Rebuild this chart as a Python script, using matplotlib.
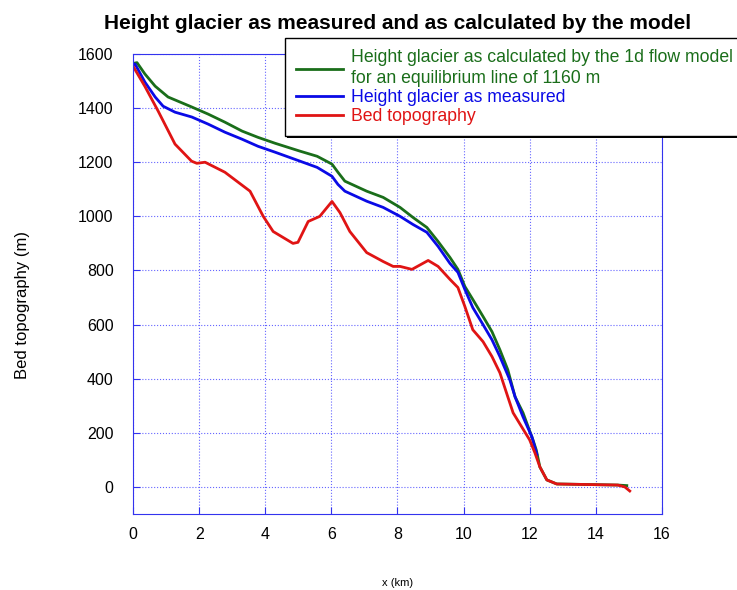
import matplotlib
matplotlib.use('Agg')
import matplotlib.pyplot as plt
import matplotlib.patheffects as pe

plt.rcParams['font.family'] = ['Liberation Sans', 'DejaVu Sans']

# bed topography (km, m)
bed_x = [0.0, 0.36, 0.76, 1.27, 1.77, 1.93, 2.18, 2.78, 3.54, 3.94, 4.24, 4.84, 4.99,
         5.3, 5.65, 6.02, 6.26, 6.56, 7.07, 7.57, 7.87, 8.08, 8.44, 8.93, 9.23, 9.59,
         9.83, 10.04, 10.28, 10.59, 10.86, 11.1, 11.34, 11.5, 12.0, 12.16, 12.31, 12.52,
         12.82, 14.67, 14.88, 15.03]
bed_y = [1555, 1480, 1389, 1267, 1204, 1196, 1200, 1163, 1093, 1000, 944, 900, 904,
         981, 1000, 1055, 1014, 944, 866, 833, 815, 815, 804, 837, 815, 767,
         737, 667, 581, 537, 482, 422, 333, 274, 174, 126, 74, 26,
         11, 7, 0, -15]

# measured glacier surface
meas_x = [0.0, 0.06, 0.36, 0.67, 0.91, 1.27, 1.78, 2.27, 2.78, 3.3, 3.78, 4.3, 5.05,
          5.57, 6.02, 6.2, 6.41, 7.07, 7.57, 8.08, 8.47, 8.89, 9.23, 9.59, 9.83,
          10.04, 10.28, 10.59, 10.86, 11.1, 11.4, 11.56, 11.8, 12.07, 12.22]
meas_y = [1558, 1563, 1496, 1441, 1407, 1385, 1367, 1341, 1311, 1285, 1259, 1237, 1204,
          1181, 1148, 1118, 1093, 1056, 1033, 1000, 970, 941, 889, 826, 793,
          730, 663, 600, 544, 482, 396, 333, 259, 185, 120]

# modelled glacier surface (ELA 1160 m)
model_x = [0.0, 0.12, 0.36, 0.67, 1.06, 1.78, 2.27, 2.78, 3.3, 3.78, 4.3, 5.05, 5.57,
           6.02, 6.2, 6.41, 7.07, 7.57, 8.08, 8.47, 8.89, 9.23, 9.59, 9.83, 10.04,
           10.28, 10.59, 10.86, 11.1, 11.34, 11.56, 11.8, 12.1, 12.2, 12.31, 12.52,
           12.82, 14.67, 14.94]
model_y = [1565, 1568, 1526, 1481, 1441, 1404, 1378, 1348, 1315, 1292, 1270, 1241, 1222,
           1193, 1163, 1130, 1093, 1070, 1033, 996, 959, 907, 848, 804, 741,
           693, 630, 574, 507, 433, 333, 274, 174, 137, 74, 26,
           11, 7, 5]

fig = plt.figure(figsize=(7.37, 5.90), dpi=100)
ax = fig.add_axes([0.1805, 0.1288, 0.7175, 0.7797])

ax.plot(model_x, model_y, color='#1a6e1a', lw=2.0,
        label='Height glacier as calculated by the 1d flow model\nfor an equilibrium line of 1160 m')
ax.plot(meas_x, meas_y, color='#0a0ae6', lw=2.0, label='Height glacier as measured')
ax.plot(bed_x, bed_y, color='#e01414', lw=2.0, label='Bed topography')

ax.set_xlim(0, 16)
ax.set_ylim(-100, 1600)
ax.set_xticks(range(0, 17, 2))
ax.set_yticks(range(0, 1601, 200))
ax.grid(True, color='#6666ff', linestyle=':', linewidth=0.8)
for s in ax.spines.values():
    s.set_color('#3333ee')
ax.tick_params(direction='in', colors='#3333ee', labelcolor='black', labelsize=11.5, length=5)
ax.tick_params(axis='x', pad=9)
ax.tick_params(axis='y', pad=14)

ax.set_title('Height glacier as measured and as calculated by the model',
             fontsize=15, fontweight='bold', pad=18)
ax.set_ylabel('Bed topography (m)', fontsize=12)
ax.yaxis.set_label_coords(-0.195, 0.454)
ax.set_xlabel('x (km)', fontsize=8)
ax.xaxis.set_label_coords(0.5, -0.139)

leg = ax.legend(loc='upper left', bbox_to_anchor=(0.287, 1.034), borderaxespad=0,
                fontsize=12.7, handlelength=2.7, handletextpad=0.45, labelspacing=0.12,
                borderpad=0.62, fancybox=False, edgecolor='black', framealpha=1)
frame = leg.get_frame()
frame.set_linewidth(1.0)
frame.set_path_effects([pe.SimplePatchShadow(offset=(1.3, -1.3), shadow_rgbFace='black', alpha=1.0),
                        pe.Normal()])
for txt, line in zip(leg.get_texts(), leg.get_lines()):
    txt.set_color(line.get_color())
    txt.set_linespacing(1.3)

fig.savefig('out.png', dpi=100)
